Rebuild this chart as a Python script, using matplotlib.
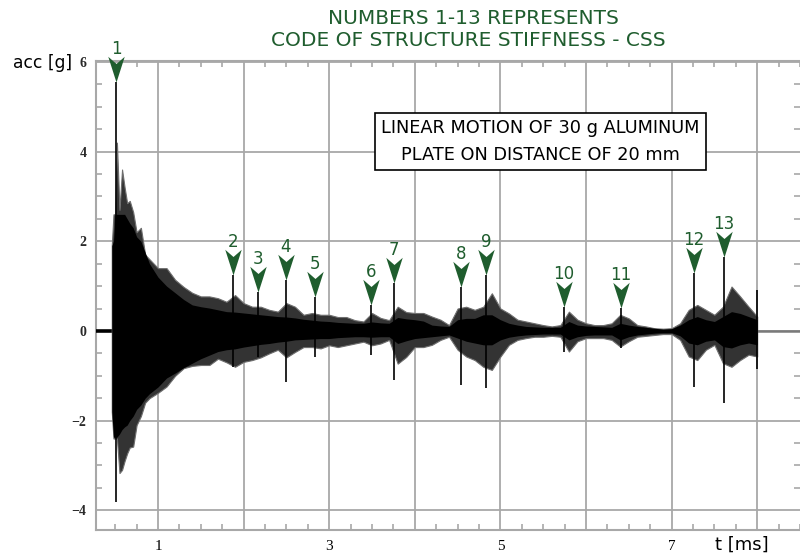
import matplotlib
matplotlib.use("Agg")
import matplotlib.pyplot as plt
from matplotlib.path import Path
from matplotlib.ticker import MultipleLocator, FuncFormatter

# time base of the envelope readings [ms]
t_env = [0.46, 0.48, 0.50, 0.52, 0.55, 0.58, 0.61, 0.64, 0.67, 0.71, 0.75, 0.80, 0.85, 0.90,
         1.0, 1.1, 1.2, 1.3, 1.4, 1.5, 1.6, 1.7, 1.8, 1.9,
         2.0, 2.1, 2.2, 2.3, 2.4, 2.5, 2.6, 2.7, 2.8, 2.9,
         3.0, 3.1, 3.2, 3.3, 3.4, 3.5, 3.6, 3.7, 3.8, 3.9,
         4.0, 4.1, 4.2, 4.3, 4.4, 4.5, 4.6, 4.7, 4.8, 4.9,
         5.0, 5.1, 5.2, 5.3, 5.4, 5.5, 5.6, 5.7, 5.8, 5.9,
         6.0, 6.1, 6.2, 6.3, 6.4, 6.5, 6.6, 6.7, 6.8, 6.9,
         7.0, 7.1, 7.2, 7.3, 7.4, 7.5, 7.6, 7.7, 7.8, 7.9, 8.0]

# peak envelope (thin excursions) [g]
hi_peak = [1.9, 2.6, 2.6, 4.2, 2.7, 3.6, 3.2, 2.85, 2.9, 2.65, 2.2, 2.3, 1.7, 1.6,
           1.4, 1.4, 1.14, 0.98, 0.85, 0.77, 0.77, 0.73, 0.65, 0.80,
           0.62, 0.54, 0.54, 0.47, 0.43, 0.62, 0.54, 0.36, 0.40, 0.36,
           0.36, 0.31, 0.31, 0.24, 0.21, 0.40, 0.29, 0.24, 0.54, 0.42,
           0.40, 0.40, 0.32, 0.25, 0.13, 0.50, 0.54, 0.47, 0.54, 0.84,
           0.50, 0.39, 0.25, 0.21, 0.17, 0.13, 0.10, 0.13, 0.43, 0.25,
           0.17, 0.13, 0.13, 0.17, 0.36, 0.28, 0.13, 0.10, 0.06, 0.05,
           0.06, 0.17, 0.47, 0.58, 0.47, 0.36, 0.54, 0.99, 0.77, 0.54, 0.32]
lo_peak = [-1.8, -2.4, -2.4, -2.4, -3.17, -3.1, -2.9, -2.73, -2.6, -2.58, -2.1, -1.9, -1.6, -1.5,
           -1.38, -1.24, -1.0, -0.83, -0.78, -0.76, -0.76, -0.62, -0.70, -0.80,
           -0.69, -0.65, -0.59, -0.50, -0.42, -0.59, -0.47, -0.36, -0.36, -0.39,
           -0.32, -0.36, -0.32, -0.28, -0.24, -0.32, -0.28, -0.20, -0.73, -0.58,
           -0.36, -0.36, -0.31, -0.20, -0.13, -0.42, -0.57, -0.65, -0.80, -0.87,
           -0.57, -0.31, -0.20, -0.16, -0.13, -0.13, -0.11, -0.13, -0.46, -0.23,
           -0.16, -0.16, -0.16, -0.20, -0.35, -0.23, -0.13, -0.11, -0.09, -0.07,
           -0.07, -0.20, -0.57, -0.65, -0.42, -0.31, -0.72, -0.80, -0.65, -0.53, -0.57]

# dense core of the oscillation [g]
hi_core = [1.9, 2.0, 2.6, 2.6, 2.6, 2.6, 2.6, 2.5, 2.4, 2.3, 2.1, 2.0, 1.75, 1.5,
           1.2, 1.0, 0.85, 0.70, 0.58, 0.54, 0.51, 0.47, 0.43, 0.42,
           0.40, 0.38, 0.36, 0.34, 0.32, 0.31, 0.29, 0.26, 0.24, 0.22,
           0.21, 0.19, 0.18, 0.17, 0.17, 0.20, 0.18, 0.17, 0.30, 0.27,
           0.25, 0.22, 0.13, 0.11, 0.10, 0.25, 0.28, 0.28, 0.36, 0.36,
           0.25, 0.17, 0.13, 0.10, 0.09, 0.08, 0.08, 0.08, 0.21, 0.13,
           0.11, 0.10, 0.09, 0.08, 0.17, 0.13, 0.10, 0.08, 0.06, 0.04,
           0.05, 0.13, 0.25, 0.32, 0.25, 0.21, 0.32, 0.43, 0.39, 0.32, 0.25]
lo_core = [-1.8, -2.37, -2.37, -2.37, -2.3, -2.2, -2.14, -2.1, -2.0, -1.9, -1.75, -1.65, -1.5, -1.4,
           -1.25, -1.05, -0.94, -0.82, -0.72, -0.62, -0.54, -0.46, -0.42, -0.40,
           -0.36, -0.33, -0.30, -0.28, -0.25, -0.23, -0.20, -0.19, -0.18, -0.17,
           -0.17, -0.15, -0.14, -0.13, -0.13, -0.14, -0.13, -0.13, -0.28, -0.22,
           -0.17, -0.15, -0.13, -0.11, -0.09, -0.16, -0.23, -0.27, -0.31, -0.31,
           -0.20, -0.14, -0.11, -0.09, -0.08, -0.07, -0.07, -0.07, -0.20, -0.13,
           -0.10, -0.09, -0.09, -0.09, -0.20, -0.13, -0.09, -0.07, -0.05, -0.04,
           -0.04, -0.11, -0.27, -0.31, -0.23, -0.20, -0.35, -0.38, -0.31, -0.27, -0.31]

# impacts marked with the structure stiffness code
css_code = ['1', '2', '3', '4', '5', '6', '7', '8', '9', '10', '11', '12', '13']
css_t = [0.51, 1.876, 2.168, 2.495, 2.834, 3.488, 3.757, 4.54, 4.83, 5.74, 6.41, 7.26, 7.61]
css_top = [5.55, 1.25, 0.87, 1.14, 0.76, 0.58, 1.07, 0.98, 1.25, 0.54, 0.51, 1.29, 1.65]
css_bot = [-3.81, -0.80, -0.58, -1.14, -0.58, -0.54, -1.09, -1.20, -1.27, -0.46, -0.39, -1.25, -1.61]

# last spike where the record stops
end_t = 8.0
end_top = 0.92
end_bot = -0.85

green = '#1f5d2e'
gridc = '#a8a8a8'

fig = plt.figure(figsize=(8, 5.53), dpi=100)
ax = fig.add_axes([96 / 800, 23 / 553, 704 / 800, 469 / 553])
ax.set_xlim(0.2757, 8.5)
ax.set_ylim(-4.44, 6.02)

# grid + frame
ax.xaxis.set_major_locator(MultipleLocator(1))
ax.xaxis.set_minor_locator(MultipleLocator(0.25))
ax.yaxis.set_major_locator(MultipleLocator(2))
ax.yaxis.set_minor_locator(MultipleLocator(0.5))
ax.grid(True, which='major', color=gridc, lw=1.3)
ax.set_axisbelow(True)
for s in ['left', 'top', 'bottom']:
    ax.spines[s].set_color(gridc)
    ax.spines[s].set_linewidth(1.5)
ax.spines['right'].set_visible(False)
ax.tick_params(which='both', direction='in', top=True, right=True, color=gridc, width=1.2)
ax.tick_params(which='major', length=0)
ax.tick_params(which='minor', length=4)
ax.tick_params(axis='x', pad=7)
ax.tick_params(axis='y', pad=7)
ax.xaxis.set_major_formatter(FuncFormatter(lambda v, p: '%d' % v if int(round(v)) % 2 == 1 else ''))
ax.yaxis.set_major_formatter(FuncFormatter(lambda v, p: ('%d' % v).replace('-', '\u2212')))
for lab in ax.get_xticklabels():
    lab.set_fontfamily('Liberation Serif')
    lab.set_fontsize(11)
for lab in ax.get_yticklabels():
    lab.set_fontfamily('Liberation Serif')
    lab.set_fontsize(10)
    lab.set_fontweight('bold')
    lab.set_color('#2a2a2a')

# signal: flat lead-in / tail, peak band, dense core, marked impacts
ax.plot([0.2757, 0.47], [0, 0], color='black', lw=2.6, solid_capstyle='butt', zorder=3)
ax.plot([8.0, 8.5], [0, 0], color='#7a7a7a', lw=1.8, solid_capstyle='butt', zorder=3)
ax.fill_between(t_env, lo_peak, hi_peak, color='#333333', lw=0.8, ec='#6e6e6e', zorder=3)
ax.fill_between(t_env, lo_core, hi_core, color='black', lw=0, zorder=4)
ax.vlines(css_t, css_bot, css_top, color='black', lw=1.2, zorder=5)
ax.vlines([end_t], [end_bot], [end_top], color='black', lw=1.2, zorder=5)

# code markers
head = Path([(0, 0), (-0.32, 1.0), (0, 0.72), (0.32, 1.0), (0, 0)],
            [Path.MOVETO, Path.LINETO, Path.LINETO, Path.LINETO, Path.CLOSEPOLY])
ax.plot(css_t, css_top, ls='none', marker=head, markersize=37, color=green,
        markeredgewidth=0, zorder=6, clip_on=False)
for code, x, y in zip(css_code, css_t, css_top):
    ax.annotate(code, (x, y), xytext=(0, 33), textcoords='offset pixels',
                ha='center', va='center', color=green, fontsize=12, zorder=7,
                annotation_clip=False)

ax.text(540.5 / 800, 1 - 141.5 / 553, 'LINEAR MOTION OF 30 g ALUMINUM\nPLATE ON DISTANCE OF 20 mm',
        transform=fig.transFigure, ha='center', va='center', fontsize=12.8,
        linespacing=1.65,
        bbox=dict(boxstyle='square,pad=0.35', fc='white', ec='black', lw=1.2), zorder=8)

fig.text(473 / 800, 1 - 18 / 553, 'NUMBERS 1-13 REPRESENTS', ha='center', va='center',
         color=green, fontsize=14.5)
fig.text(468 / 800, 1 - 40 / 553, 'CODE OF STRUCTURE STIFFNESS - CSS', ha='center', va='center',
         color=green, fontsize=14.5)
fig.text(13 / 800, 1 - 63 / 553, 'acc [g]', ha='left', va='center', fontsize=12.3)
fig.text(715 / 800, 1 - 545 / 553, 't [ms]', ha='left', va='center', fontsize=13)

fig.savefig('out.png', dpi=100)
